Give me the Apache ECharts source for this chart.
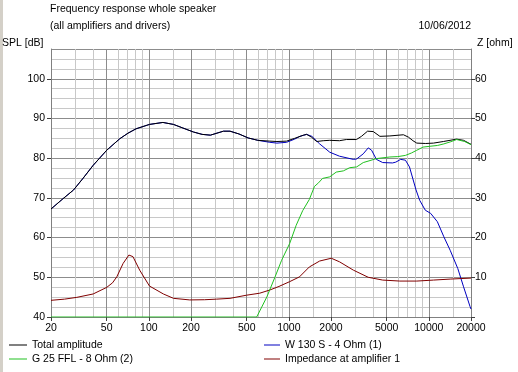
<!DOCTYPE html>
<html><head><meta charset="utf-8">
<script src="https://cdn.jsdelivr.net/npm/echarts@6/dist/echarts.min.js"></script>
<style>html,body{margin:0;padding:0;background:#fff}#c{width:518px;height:372px}</style>
</head><body><div id="c"></div>
<script>
// ---- data ----
const xLabelFreqs = [20, 50, 100, 200, 500, 1000, 2000, 5000, 10000, 20000];
const xMinorFreqs = [30, 40, 60, 70, 80, 90, 150, 300, 400, 600, 700, 800, 900, 1500, 3000, 4000, 6000, 7000, 8000, 9000, 15000];
const splTicks = [40, 50, 60, 70, 80, 90, 100];
const zLabelTicks = [10, 20, 30, 40, 50, 60];
const zTicks = [0, 10, 20, 30, 40, 50, 60];

const totalFreq = [20, 24, 29, 34, 40, 50, 62, 71, 81, 101, 126, 150, 175, 208, 240, 275, 341, 380, 440, 512, 600, 731, 822, 963, 1100, 1270, 1340, 1450, 1580, 1760, 1960, 2300, 2573, 3040, 3300, 3650, 4010, 4470, 5260, 6580, 7150, 7700, 8200, 9500, 10800, 12700, 15800, 17700, 20000];
const totalSpl  = [67.2, 69.6, 72.0, 75.0, 78.2, 82.0, 84.9, 86.3, 87.4, 88.5, 89.0, 88.5, 87.6, 86.6, 86.0, 85.8, 86.8, 86.8, 86.1, 85.1, 84.5, 84.3, 84.2, 84.3, 85.0, 85.8, 86.0, 85.3, 84.2, 84.4, 84.5, 84.4, 84.7, 84.7, 85.5, 86.8, 86.7, 85.5, 85.6, 85.9, 85.3, 84.4, 83.8, 83.7, 83.8, 84.2, 84.8, 84.5, 83.5];

const wooferFreq = [20, 24, 29, 34, 40, 50, 62, 71, 81, 101, 126, 150, 175, 208, 240, 275, 341, 380, 440, 512, 600, 731, 822, 963, 1100, 1200, 1340, 1460, 1660, 1960, 2300, 2890, 3050, 3400, 3690, 3900, 4220, 4680, 5500, 5800, 6290, 6800, 7270, 8100, 8600, 9430, 10300, 11500, 12800, 14200, 16100, 17700, 19700, 20000];
const wooferSpl  = [67.2, 69.6, 72.0, 75.0, 78.2, 82.0, 84.9, 86.3, 87.4, 88.5, 89.0, 88.5, 87.6, 86.6, 86.0, 85.8, 86.8, 86.8, 86.1, 85.1, 84.5, 84.0, 83.8, 84.0, 84.8, 85.5, 86.0, 85.5, 83.6, 81.5, 80.5, 79.7, 79.8, 81.1, 82.6, 82.0, 79.7, 78.9, 78.8, 79.0, 79.7, 79.5, 77.8, 72.0, 69.4, 66.9, 66.1, 64.0, 60.2, 56.8, 52.2, 47.6, 42.6, 42.0];

const tweeterFreq = [20, 589, 640, 697, 797, 888, 1013, 1128, 1256, 1400, 1525, 1630, 1740, 1960, 2180, 2450, 2720, 3050, 3400, 3800, 4220, 5260, 6000, 6800, 7500, 8200, 9100, 10200, 11500, 12800, 14200, 15800, 18000, 20000];
const tweeterSpl  = [40.0, 40.0, 42.5, 45.1, 50.1, 54.3, 58.5, 63.1, 66.8, 69.6, 72.9, 73.8, 74.9, 75.3, 76.5, 76.8, 77.6, 77.8, 78.9, 79.4, 79.9, 80.3, 80.4, 80.7, 81.3, 82.0, 82.8, 83.0, 83.2, 83.6, 84.1, 84.7, 84.2, 83.4];

const impFreq = [20, 25, 30.6, 40, 50, 55, 59, 65.5, 72, 77, 86, 101, 127, 150, 196, 250, 305, 380, 500, 620, 731, 850, 1013, 1190, 1400, 1660, 2010, 2300, 2890, 3690, 4680, 6200, 8200, 10800, 14200, 20000];
const impZ    = [4.2, 4.5, 4.95, 5.8, 7.46, 8.6, 10.1, 13.5, 15.6, 15.2, 11.8, 7.8, 5.8, 4.7, 4.3, 4.35, 4.5, 4.7, 5.5, 6.0, 6.8, 7.7, 8.9, 10.1, 12.6, 14.1, 14.8, 13.9, 11.8, 10.0, 9.3, 9.05, 9.05, 9.3, 9.55, 9.8];

const seriesNames = ['Total amplitude', 'W 130 S - 4 Ohm (1)', 'G 25 FFL - 8 Ohm (2)', 'Impedance at amplifier 1'];

function pairs(xs, ys) { return xs.map((x, i) => [x, ys[i]]); }

const FONT = 'Liberation Sans';
const FS = 10.5;
const DARK = '#8c8c8c';
const LIGHT = '#c8c8c8';
const txt = {color: '#000', fontFamily: FONT, fontSize: FS};

const chart = echarts.init(document.getElementById('c'), null, {renderer: 'canvas'});

const hiddenX = (vals, color) => ({
  type: 'log', logBase: 10, min: 20, max: 20000, position: 'bottom', gridIndex: 0,
  axisLine: {show: false}, axisLabel: {show: false},
  axisTick: {show: false, customValues: vals},
  splitLine: {show: true, lineStyle: {color: color, width: 1}}
});
const hiddenY = (interval, color) => ({
  type: 'value', min: 40, max: 107.5, interval: interval, position: 'left', gridIndex: 0,
  axisLine: {show: false}, axisLabel: {show: false}, axisTick: {show: false},
  splitLine: {show: true, lineStyle: {color: color, width: 1}}
});

chart.setOption({
  animation: false,
  backgroundColor: '#ffffff',
  graphic: [{type: 'rect', left: 0, top: 0, shape: {width: 3, height: 372}, style: {fill: '#d4d0c8'}}],
  title: [
    {text: 'Frequency response whole speaker', left: 50, top: 4, padding: 0, textStyle: Object.assign({}, txt, {fontWeight: 'normal'})},
    {text: '(all amplifiers and drivers)', left: 50, top: 21, padding: 0, textStyle: Object.assign({}, txt, {fontWeight: 'normal'})},
    {text: '10/06/2012', right: 47, top: 21, padding: 0, textStyle: Object.assign({}, txt, {fontWeight: 'normal'})},
    {text: 'SPL [dB]', left: 2, top: 38, padding: 0, textStyle: Object.assign({}, txt, {fontWeight: 'normal'})},
    {text: 'Z [ohm]', left: 477, top: 38, padding: 0, textStyle: Object.assign({}, txt, {fontWeight: 'normal'})}
  ],
  legend: [
    {data: [seriesNames[0], seriesNames[2]], orient: 'vertical', left: 9, top: 338, padding: 0, itemGap: 0,
     icon: 'rect', itemWidth: 18, itemHeight: 1, textStyle: Object.assign({}, txt, {lineHeight: 14}), selectedMode: false},
    {data: [seriesNames[1], seriesNames[3]], orient: 'vertical', left: 264, top: 338, padding: 0, itemGap: 0,
     icon: 'rect', itemWidth: 16, itemHeight: 1, textStyle: Object.assign({}, txt, {lineHeight: 14}), selectedMode: false}
  ],
  grid: {left: 51, right: 47, top: 49, bottom: 55, containLabel: false},
  xAxis: [
    {type: 'log', logBase: 10, min: 20, max: 20000, position: 'bottom',
     axisLine: {show: true, lineStyle: {color: '#808080'}},
     axisTick: {show: true, length: 4, customValues: xLabelFreqs, lineStyle: {color: '#404040'}},
     axisLabel: {show: true, customValues: xLabelFreqs, margin: 6, color: '#000', fontFamily: FONT, fontSize: FS,
                 formatter: v => String(Math.round(v))},
     splitLine: {show: false}},
    hiddenX(xMinorFreqs, LIGHT),
    hiddenX(xLabelFreqs, DARK)
  ],
  yAxis: [
    {type: 'value', min: 40, max: 107.5, position: 'left',
     axisLine: {show: true, lineStyle: {color: '#808080'}},
     axisTick: {show: true, length: 4, customValues: splTicks, lineStyle: {color: '#404040'}},
     axisLabel: {show: true, customValues: splTicks, margin: 6, color: '#000', fontFamily: FONT, fontSize: FS},
     splitLine: {show: false}},
    {type: 'value', min: 0, max: 67.5, position: 'right',
     axisLine: {show: true, lineStyle: {color: '#808080'}},
     axisTick: {show: true, length: 4, customValues: zTicks, lineStyle: {color: '#404040'}},
     axisLabel: {show: true, customValues: zLabelTicks, margin: 4, color: '#000', fontFamily: FONT, fontSize: FS},
     splitLine: {show: false}},
    hiddenY(2.5, LIGHT),
    hiddenY(10, DARK)
  ],
  series: [
    {name: seriesNames[0], type: 'line', xAxisIndex: 0, yAxisIndex: 0, data: pairs(totalFreq, totalSpl),
     showSymbol: false, symbol: 'none', z: 3, lineStyle: {color: '#000000', width: 1}, itemStyle: {color: '#000000'}},
    {name: seriesNames[1], type: 'line', xAxisIndex: 0, yAxisIndex: 0, data: pairs(wooferFreq, wooferSpl),
     showSymbol: false, symbol: 'none', z: 2, lineStyle: {color: '#0000c0', width: 1}, itemStyle: {color: '#0000c0'}},
    {name: seriesNames[2], type: 'line', xAxisIndex: 0, yAxisIndex: 0, data: pairs(tweeterFreq, tweeterSpl),
     showSymbol: false, symbol: 'none', z: 4, lineStyle: {color: '#20c020', width: 1}, itemStyle: {color: '#20c020'}},
    {name: seriesNames[3], type: 'line', xAxisIndex: 0, yAxisIndex: 1, data: pairs(impFreq, impZ),
     showSymbol: false, symbol: 'none', z: 2, lineStyle: {color: '#800000', width: 1}, itemStyle: {color: '#800000'}}
  ]
});
</script></body></html>
